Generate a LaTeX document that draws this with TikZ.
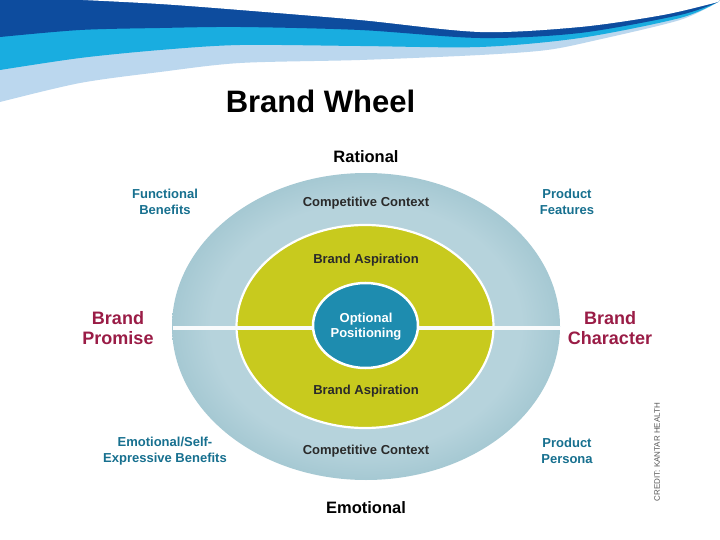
\documentclass[tikz,border=0pt]{standalone}
\usepackage{fontspec}
\setmainfont{Liberation Sans}
\definecolor{bandDark}{HTML}{0D4C9E}
\definecolor{bandCyan}{HTML}{19ADE0}
\definecolor{bandLight}{HTML}{BBD7EE}
\definecolor{ringLight}{HTML}{B6D3DC}
\definecolor{ringMid}{HTML}{98C0CB}
\definecolor{ringDark}{HTML}{6A9FAF}
\definecolor{yellowRing}{HTML}{C8CA1E}
\definecolor{coreBlue}{HTML}{1E8CAF}
\definecolor{tealText}{HTML}{17708F}
\definecolor{maroonText}{HTML}{9A1C46}
\definecolor{innerText}{HTML}{2A2A2A}
\pgfdeclareradialshading{ringshade}{\pgfpoint{0bp}{0bp}}{color(0bp)=(ringLight); color(20bp)=(ringLight); color(29bp)=(ringMid); color(35.5bp)=(ringDark); color(50bp)=(ringDark)}
\tikzset{
  lbl/.style={inner sep=0pt, align=center},
  sidelbl/.style={lbl, text=tealText, font=\bfseries\fontsize{13}{16.5}\selectfont},
  keylbl/.style={lbl, text=maroonText, font=\bfseries\fontsize{18}{20}\selectfont},
  axislbl/.style={lbl, text=black, font=\bfseries\fontsize{16.5}{18}\selectfont},
  ringlbl/.style={lbl, text=innerText, font=\bfseries\fontsize{13}{15}\selectfont},
}
\begin{document}
\begin{tikzpicture}[x=1pt,y=-1pt]
\useasboundingbox (0,0) rectangle (720,540);
\fill[white] (0,0) rectangle (720,540);
% top swoosh
\fill[bandLight] (0,0) -- plot[smooth] coordinates {(0,102) (80,83) (160,72) (240,63) (360,60) (480,55) (547,50) (597,40) (680,20) (718,2)} -- (720,0) -- cycle;
\fill[bandCyan] (0,0) -- plot[smooth] coordinates {(0,70) (80,58) (160,50) (240,45) (360,46) (480,47) (580,38) (680,18) (718,2)} -- (720,0) -- cycle;
\fill[bandDark] (0,0) -- plot[smooth] coordinates {(0,37) (80,30) (160,28) (240,27) (360,30) (480,38) (580,33) (680,15) (718,2)} -- (720,0) -- cycle;
\fill[white] plot[smooth] coordinates {(83,0) (160,4) (240,10) (360,20) (480,32) (580,27) (663,15) (718,2)} -- (720,0) -- cycle;
% title
\node[lbl, anchor=base, font=\bfseries\fontsize{31}{33}\selectfont] (title) at (320.5,113) {Brand Wheel};
% wheel
\shade[shading=ringshade] (366,326.5) ellipse [x radius=194pt, y radius=153.5pt];
\fill[yellowRing, draw=white, line width=2.2pt] (365,326.5) ellipse [x radius=128.5pt, y radius=101.5pt];
\draw[white!92!ringLight, line width=3.5pt] (172.5,328) -- (559.5,328);
\fill[coreBlue, draw=white, line width=2.5pt] (365.5,325.5) ellipse [x radius=52.5pt, y radius=42.5pt];
% labels
\node[axislbl] (rational) at (366,157) {Rational};
\node[axislbl] (emotional) at (366,508) {Emotional};
\node[ringlbl] (cctop) at (366,203) {Competitive Context};
\node[ringlbl] (ccbot) at (366,451) {Competitive Context};
\node[ringlbl] (batop) at (366,260) {Brand Aspiration};
\node[ringlbl] (babot) at (366,391) {Brand Aspiration};
\node[ringlbl, text=white] (core) at (366,327) {Optional\\Positioning};
\node[sidelbl] (func) at (165,202) {Functional\\Benefits};
\node[sidelbl] (feat) at (567,202) {Product\\Features};
\node[sidelbl] (emot) at (165,451) {Emotional/Self-\\Expressive Benefits};
\node[sidelbl] (pers) at (567,451) {Product\\Persona};
\node[keylbl] (promise) at (118,328) {Brand\\Promise};
\node[keylbl] (character) at (610,328) {Brand\\Character};
\node[lbl, rotate=90, text=black!65, font=\fontsize{8}{9}\selectfont] (credit) at (657,452) {CREDIT: KANTAR HEALTH};
\end{tikzpicture}
\end{document}
